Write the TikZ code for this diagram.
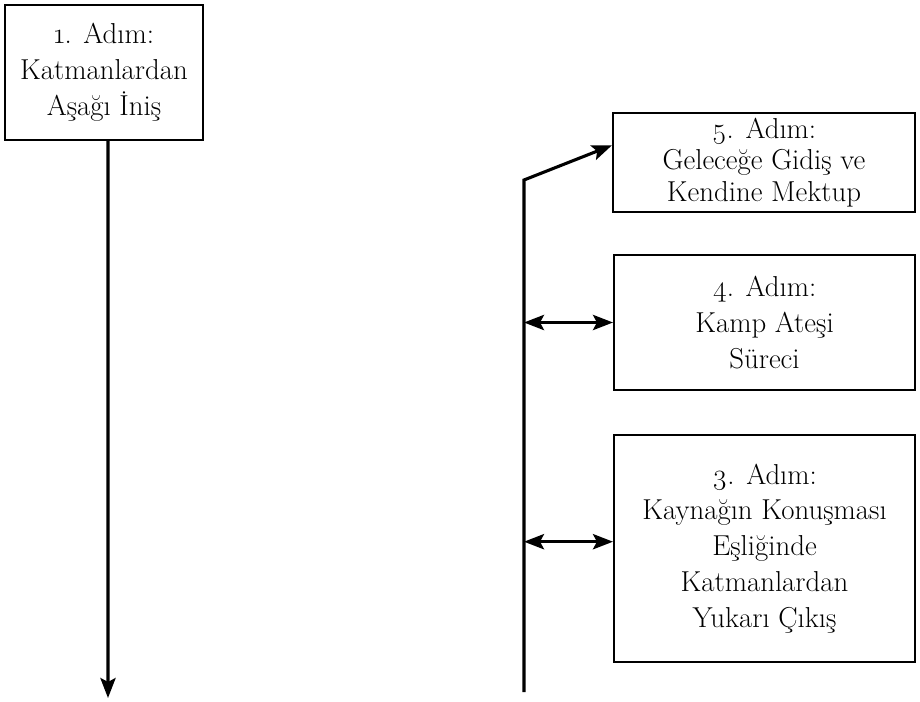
\documentclass[tikz,border=0pt]{standalone}
\usepackage{fontspec}
\setmainfont{Latin Modern Roman}[Numbers=OldStyle]
\usetikzlibrary{arrows.meta}

\tikzset{
  stepbox/.style={draw, line width=1.4pt, align=center, inner sep=0pt,
    font=\fontsize{20.5}{25.5}\selectfont},
  flow/.style={line width=2.2pt, -{Stealth[length=5mm,width=3.8mm,inset=1mm]}},
  link/.style={line width=2.2pt, {Stealth[length=5mm,width=3.8mm,inset=1mm]}-{Stealth[length=5mm,width=3.8mm,inset=1mm]}}
}

\begin{document}
\begin{tikzpicture}[x=0.025cm,y=-0.025cm]
\useasboundingbox (0,0) rectangle (920,702);
\node[stepbox, minimum width=4.95cm, minimum height=3.375cm] (step1) at (104,72.5) {1. Adım:\\Katmanlardan\\Aşağı İniş};
\node[stepbox, minimum width=7.55cm, minimum height=2.475cm, font=\fontsize{20.5}{22.5}\selectfont] (step5) at (764,162.5) {5. Adım:\\Geleceğe Gidiş ve\\Kendine Mektup};
\node[stepbox, minimum width=7.525cm, minimum height=3.375cm] (step4) at (764.5,322.5) {4. Adım:\\Kamp Ateşi\\Süreci};
\node[stepbox, minimum width=7.525cm, minimum height=5.675cm] (step3) at (764.5,548.5) {3. Adım:\\Kaynağın Konuşması\\Eşliğinde\\Katmanlardan\\Yukarı Çıkış};
\coordinate (down) at (108,698);
\coordinate (top) at (524,180);
\coordinate (bottom) at (524,692);
% left side: going down
\draw[flow] ([xshift=0.1cm]step1.south) -- (down);
% right side: coming up
\draw[flow] (bottom) -- (top) -- ([yshift=0.43cm]step5.west);
\draw[link] (step4.west -| top) -- (step4.west);
\draw[link] ([yshift=0.17cm]step3.west -| top) -- ([yshift=0.17cm]step3.west);
\end{tikzpicture}
\end{document}
